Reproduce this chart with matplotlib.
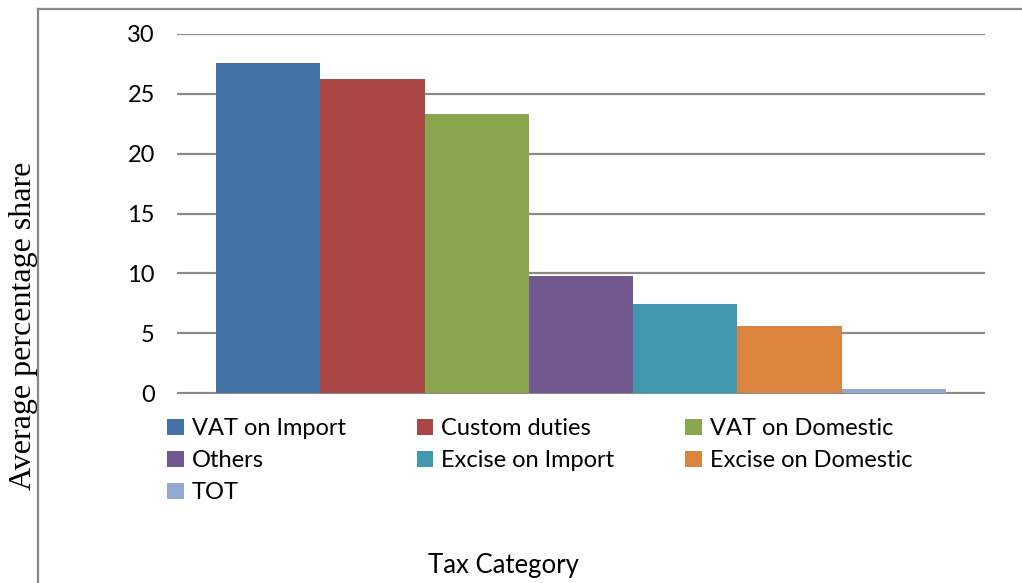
import matplotlib.pyplot as plt
from matplotlib.lines import Line2D

# average percentage share of each tax category
categories = ["VAT on Import", "Custom duties", "VAT on Domestic",
              "Others", "Excise on Import", "Excise on Domestic", "TOT"]
shares = [27.6, 26.2, 23.3, 9.75, 7.4, 5.6, 0.35]
colors = ["#4572A7", "#AA4643", "#89A54E", "#71588F",
          "#4198AF", "#DB843D", "#93A9CF"]
yticks = [0, 5, 10, 15, 20, 25, 30]

plt.rcParams["font.family"] = ["Lato", "DejaVu Sans"]

fig = plt.figure(figsize=(10.22, 5.83), dpi=100)
ax = fig.add_axes([177 / 1022, 1 - 394 / 583, 808 / 1022, 360 / 583])

bars = []
for i, (name, val, c) in enumerate(zip(categories, shares, colors)):
    bars.append(ax.bar(i, val, width=1.0, color=c, label=name, zorder=3))

gap = 0.373
ax.set_xlim(-0.5 - gap, len(categories) - 0.5 + gap)
ax.set_ylim(-0.08, 30)
ax.set_yticks(yticks)
ax.set_xticks([])
ax.tick_params(axis="y", length=0, pad=16, labelsize=17)
ax.yaxis.grid(True, color="#8a8a8a", linewidth=1.6, zorder=0)
for s in ax.spines.values():
    s.set_visible(False)

# legend below the plot, filled row by row
order = [0, 3, 6, 1, 4, 2, 5]
ax.legend([bars[k] for k in order], [categories[k] for k in order],
          loc="upper left", bbox_to_anchor=(-10 / 808, -0.068), ncol=3,
          frameon=False, fontsize=17, handlelength=0.7, handleheight=0.7,
          handletextpad=0.35, columnspacing=3.0, labelspacing=0.46,
          borderpad=0, borderaxespad=0)

fig.text(503 / 1022, 1 - 566 / 583, "Tax Category", ha="center", va="center",
         fontsize=18.5)
fig.text(24 / 1022, 1 - 326 / 583, "Average percentage share", rotation=90,
         ha="center", va="center", fontsize=23, family="Liberation Serif")

# chart frame (left and top edges)
fig.add_artist(Line2D([38 / 1022, 38 / 1022], [0, 1 - 9 / 583],
                      transform=fig.transFigure, color="#888888", lw=1.6))
fig.add_artist(Line2D([38 / 1022, 1], [1 - 9 / 583, 1 - 9 / 583],
                      transform=fig.transFigure, color="#888888", lw=1.6))

fig.savefig("out.png", dpi=100)
